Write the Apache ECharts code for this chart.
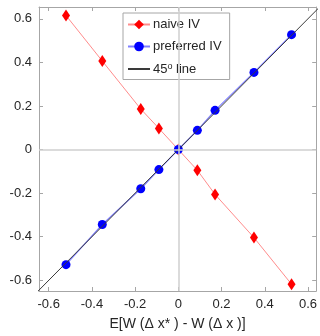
<!DOCTYPE html>
<html>
<head>
<meta charset="utf-8">
<script src="https://cdn.jsdelivr.net/npm/echarts@6/dist/echarts.min.js"></script>
<style>
  html, body { margin: 0; padding: 0; background: #fff; }
  #chart { width: 320px; height: 336px; }
</style>
</head>
<body>
<div id="chart"></div>
<script>
// values
const xValues = [-0.52, -0.352, -0.174, -0.09, 0, 0.088, 0.17, 0.35, 0.524]
const naiveIV = [0.615, 0.406, 0.186, 0.097, 0, -0.095, -0.206, -0.404, -0.618]
const preferredIV = [-0.528, -0.344, -0.18, -0.092, 0, 0.088, 0.18, 0.354, 0.527]
const lineEnds = [-0.66, 0.66]
const tickValues = [-0.6, -0.4, -0.2, 0, 0.2, 0.4, 0.6]

const xMin = -0.645, xMax = 0.638
const yMin = -0.649, yMax = 0.654

const boxColor = '#a6a6a6'
const textColor = '#262626'
const font = 'Liberation Sans'

const makeAxis = (position, min, max, showLabels) => ({
  type: 'value',
  position,
  min,
  max,
  axisLine: { show: true, onZero: false, lineStyle: { color: boxColor, width: 1 } },
  axisTick: {
    show: true,
    inside: true,
    length: 4,
    customValues: tickValues,
    lineStyle: { color: boxColor },
  },
  axisLabel: {
    show: showLabels,
    customValues: tickValues,
    color: textColor,
    fontFamily: font,
    fontSize: 13,
    margin: 7,
  },
  splitLine: { show: false },
})

const toPairs = (xs, ys) => xs.map((x, i) => [x, ys[i]])

const chart = echarts.init(document.getElementById('chart'), null, { renderer: 'canvas' })

chart.setOption({
  animation: false,
  backgroundColor: '#fff',
  grid: { left: 39, right: 3, top: 7, bottom: 44 },
  xAxis: [
    {
      ...makeAxis('bottom', xMin, xMax, true),
      name: 'E[W (Δ x* ) - W (Δ x )]',
      nameLocation: 'middle',
      nameGap: 26,
      nameTextStyle: { color: textColor, fontFamily: font, fontSize: 14 },
    },
    makeAxis('top', xMin, xMax, false),
  ],
  yAxis: [
    makeAxis('left', yMin, yMax, true),
    makeAxis('right', yMin, yMax, false),
  ],
  legend: {
    data: ['naive IV', 'preferred IV', { name: '45 line', itemStyle: { opacity: 0 } }],
    orient: 'vertical',
    left: 123,
    top: 13,
    width: 111,
    padding: [5, 8, 4, 4],
    itemGap: 9,
    itemWidth: 22,
    itemHeight: 12,
    backgroundColor: '#fff',
    borderColor: '#a6a6a6',
    borderWidth: 1,
    borderRadius: 0,
    formatter: name => name === '45 line' ? '45{s|o} line' : name,
    textStyle: {
      color: textColor,
      fontFamily: font,
      fontSize: 13,
      padding: [0, 0, 0, -2],
      rich: {
        s: { fontSize: 9, fontFamily: font, color: textColor, verticalAlign: 'top', padding: [0, 0, 5, 0] },
      },
    },
  },
  series: [
    {
      name: 'zero',
      type: 'line',
      data: [],
      silent: true,
      z: 1,
      markLine: {
        silent: true,
        symbol: 'none',
        animation: false,
        label: { show: false },
        lineStyle: { color: '#cfcfcf', width: 1.5, type: 'solid' },
        data: [{ xAxis: 0 }, { yAxis: 0 }],
      },
    },
    {
      name: 'naive IV',
      type: 'line',
      data: toPairs(xValues, naiveIV),
      symbol: 'diamond',
      symbolSize: [8, 12],
      itemStyle: { color: '#ff0000' },
      lineStyle: { color: '#ff8c8c', width: 1 },
      z: 3,
    },
    {
      name: 'preferred IV',
      type: 'line',
      data: toPairs(xValues, preferredIV),
      symbol: 'circle',
      symbolSize: 9,
      itemStyle: { color: '#0000ff' },
      lineStyle: { color: '#7f7fff', width: 1.2 },
      z: 3,
    },
    {
      name: '45 line',
      type: 'line',
      data: toPairs(lineEnds, lineEnds),
      showSymbol: false,
      symbol: 'none',
      clip: true,
      lineStyle: { color: '#3a3a3a', width: 1, opacity: 1 },
      itemStyle: { color: '#3a3a3a', opacity: 0 },
      z: 4,
    },
  ],
})
</script>
</body>
</html>
